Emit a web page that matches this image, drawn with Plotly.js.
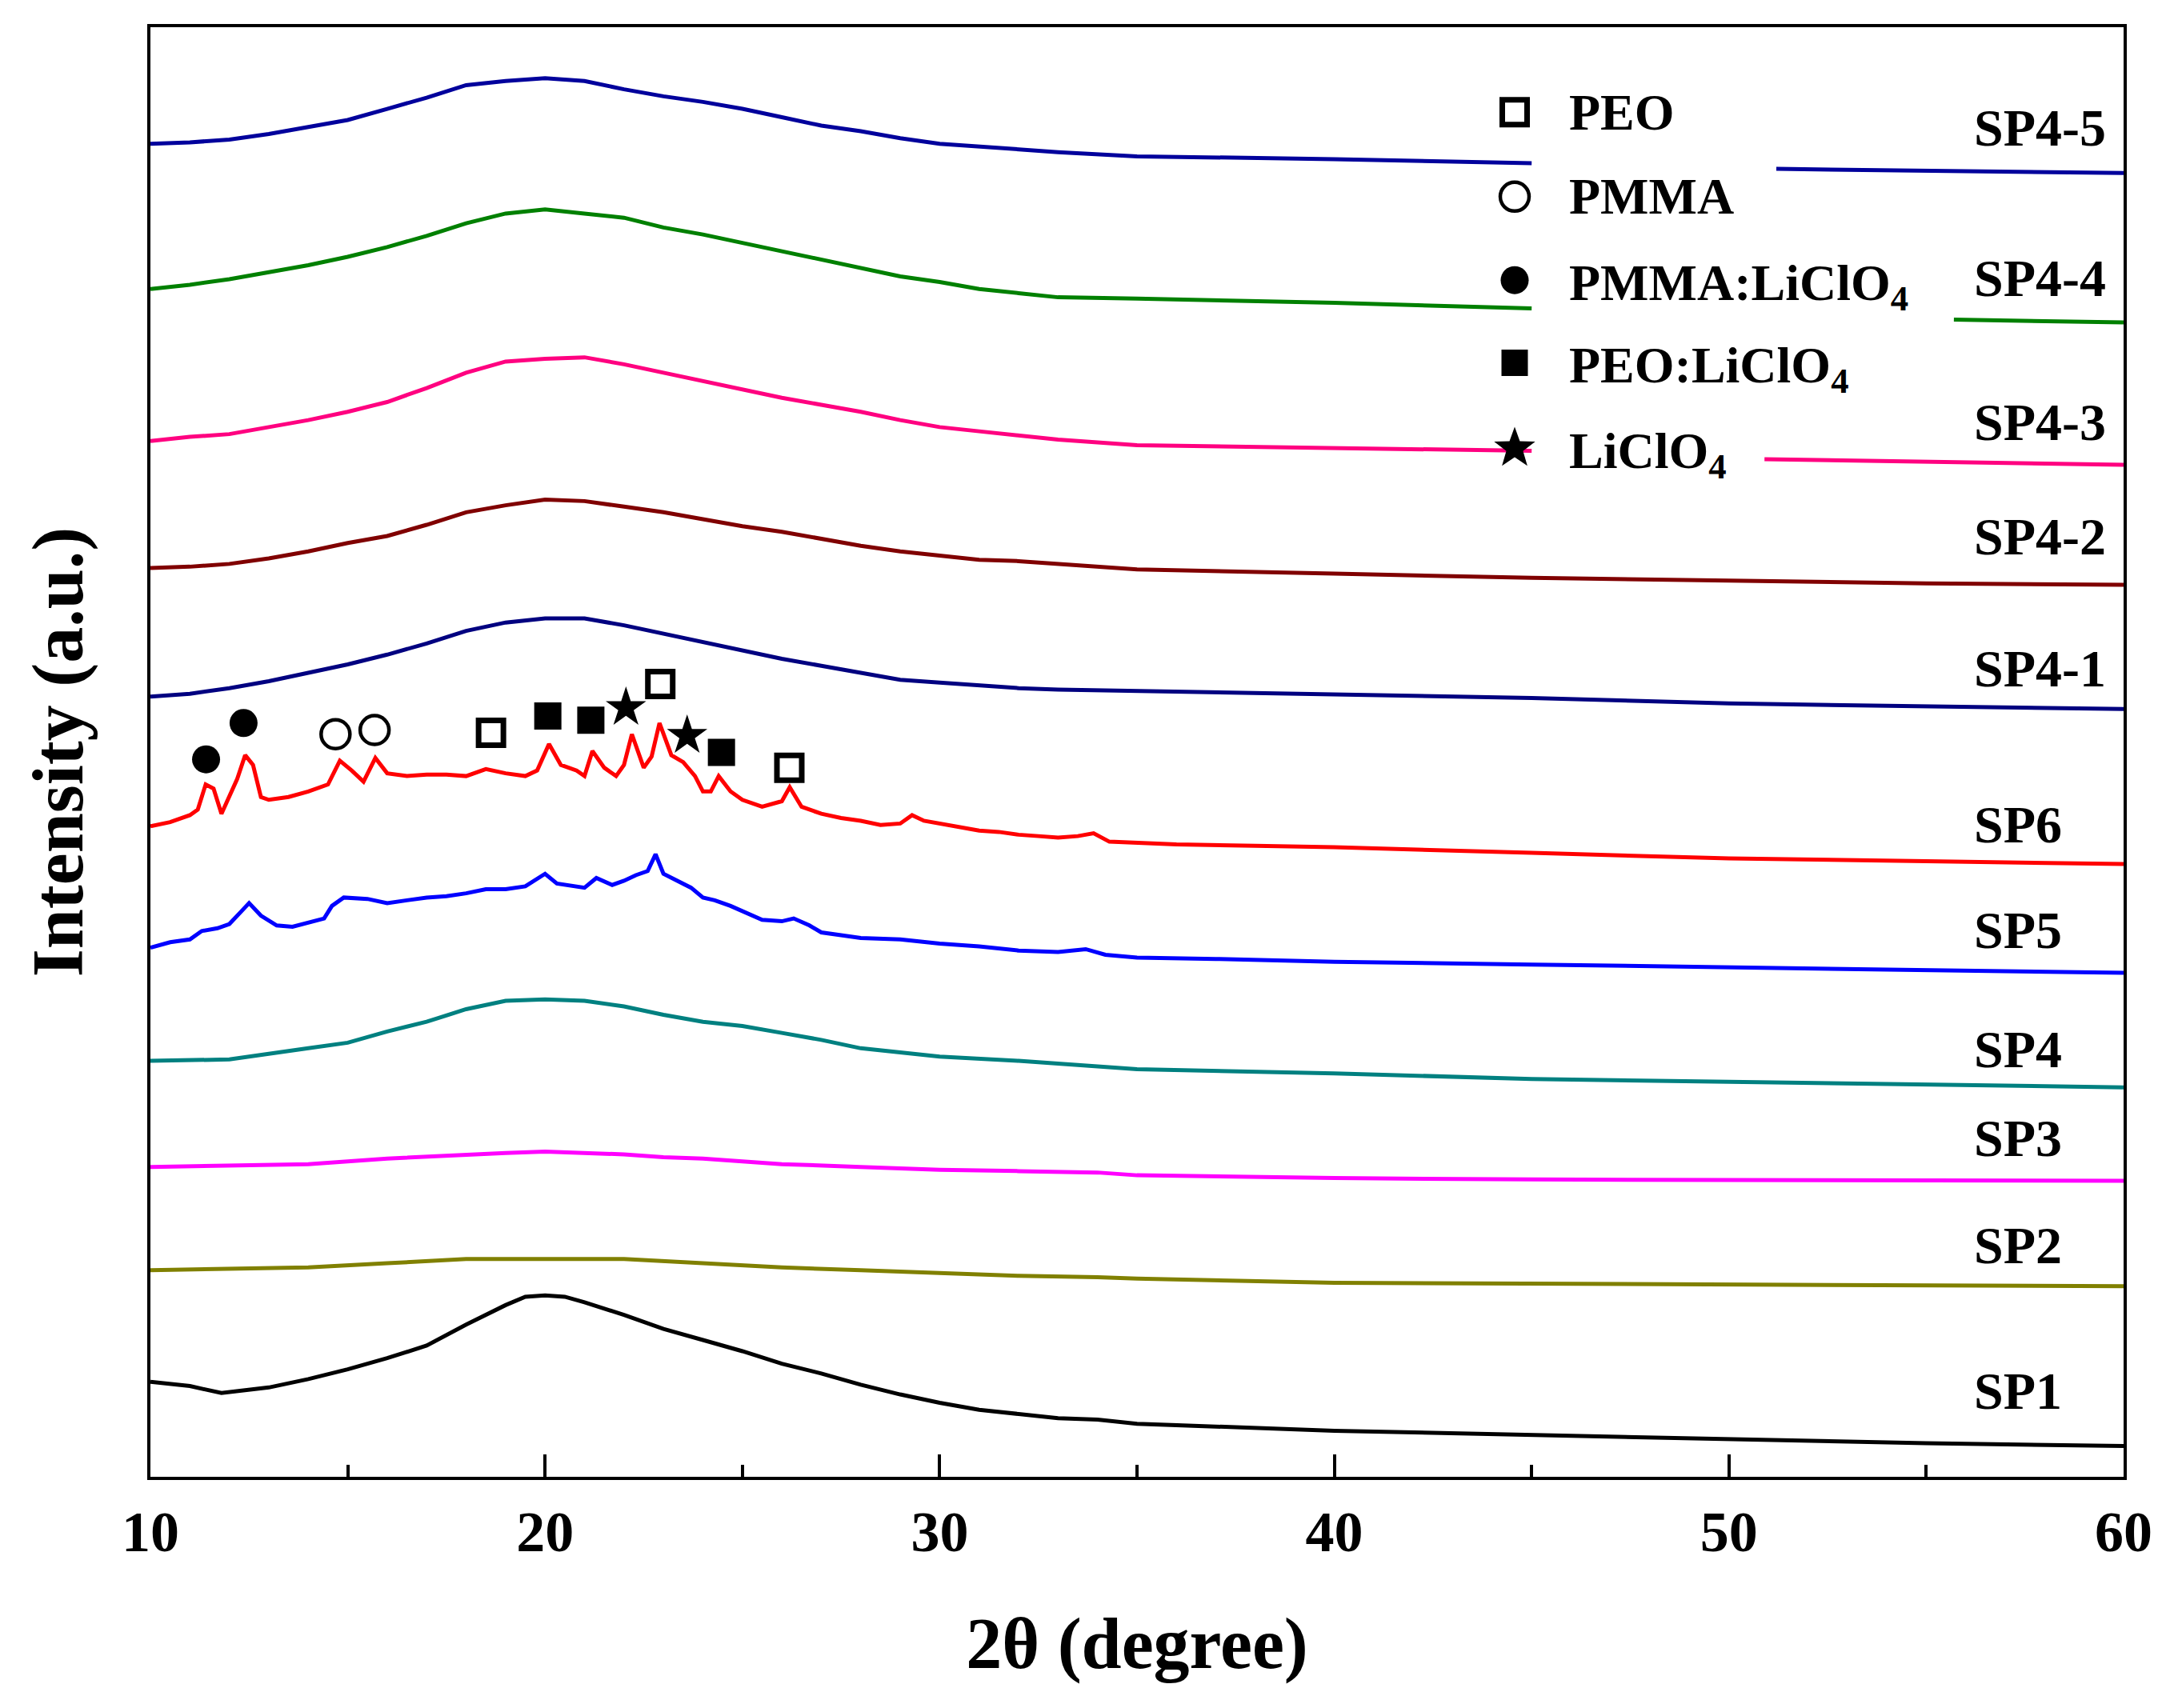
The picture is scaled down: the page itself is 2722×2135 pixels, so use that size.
<!DOCTYPE html>
<html>
<head>
<meta charset="utf-8">
<script src="https://cdn.plot.ly/plotly-3.0.1.min.js"></script>
<style>
html,body{margin:0;padding:0;background:#ffffff;}
#chart{width:2722px;height:2135px;}
</style>
</head>
<body>
<div id="chart"></div>
<script>
// ---------------- DATA ----------------
// x = 2θ (degree), y = intensity in arbitrary stacked units
const sp1X = [10,11,11.8,13,14,15,16,17,18,19,19.5,20,20.5,21,22,23,24,25,26,27,28,29,30,31,32,33,34,35,40,45,50,55,60];
const sp1Y = [72,69,64,68,74,81,89,98,113,127,133,134,133,129,120,110,102,94,85,78,70,63,57,52,49,46,45,42,37,34,31,28,26];

const sp2X = [10,12,14,16,18,20,22,24,26,28,30,32,34,35,40,45,50,55,60];
const sp2Y = [152,153,154,157,160,160,160,157,154,152,150,148,147,146,143,142.5,142,141,140.5];

const sp3X = [10,12,14,16,18,19,20,21,22,23,24,25,26,28,30,32,34,35,40,45,50,55,60];
const sp3Y = [226,227,228,232,235,236,237,236,235,233,232,230,228,226,224,223,222,220,218,217,216.5,216,216];

const sp4X = [10,12,14,15,16,17,18,19,20,21,22,23,24,25,26,27,28,29,30,32,34,35,40,45,50,55,60];
const sp4Y = [302,303,311,315,323,330,339,345,346,345,341,335,330,327,322,317,311,308,305,302,298,296,293,289,287,285,283];

const sp5X = [10,10.5,11,11.3,11.7,12,12.3,12.5,12.8,13.2,13.6,14,14.4,14.6,14.9,15.5,16,16.5,17,17.5,18,18.5,19,19.5,19.8,20,20.3,20.6,21,21.3,21.7,22,22.3,22.6,22.8,23,23.3,23.7,24,24.3,24.7,25,25.5,26,26.3,26.7,27,27.5,28,29,30,31,32,33,33.7,34.2,35,37,40,45,50,55,60];
const sp5Y = [383,387,389,395,397,400,409,415,406,399,398,401,404,413,419,418,415,417,419,420,422,425,425,427,432,436,429,428,426,433,428,431,435,438,450,436,432,426,419,417,413,409,403,402,404,399,394,392,390,389,386,384,381,380,382,378,376,375,373,371,369,367,365];

const sp6X = [10,10.5,11,11.2,11.4,11.6,11.8,12,12.2,12.4,12.6,12.8,13,13.5,14,14.5,14.8,15.1,15.4,15.7,16,16.5,17,17.5,18,18.5,19,19.5,19.8,20.1,20.4,20.8,21,21.2,21.5,21.8,22,22.2,22.5,22.7,22.9,23.2,23.5,23.8,24,24.2,24.4,24.7,25,25.5,26,26.2,26.5,27,27.5,28,28.5,29,29.3,29.6,30,30.5,31,31.5,32,32.5,33,33.5,33.9,34.3,35,36,38,40,45,50,55,60];
const sp6Y = [470,473,478,482,500,497,479,491,504,521,514,491,489,491,495,500,517,510,502,519,508,506,507,507,506,511,508,506,510,529,514,510,506,524,512,506,514,536,512,520,544,521,516,506,495,495,506,495,489,484,488,498,484,479,476,474,471,472,478,474,472,470,467,466,464,463,462,463,465,459,458,457,456,455,451,447,445,443];

const sp41X = [10,11,12,13,14,15,16,17,18,19,20,21,22,23,24,25,26,27,28,29,30,31,32,33,35,40,45,50,55,60];
const sp41Y = [563,565,569,574,580,586,593,601,610,616,619,619,614,608,602,596,590,585,580,575,573,571,569,568,567,565,562,558,556,554];

const sp42X = [10,11,12,13,14,15,16,17,18,19,20,21,22,23,24,25,26,27,28,29,30,31,32,33,35,40,45,50,55,60];
const sp42Y = [655,656,658,662,667,673,678,686,695,700,704,703,699,695,690,685,681,676,671,667,664,661,660,658,654,651,648,646,644,643];

const sp43X = [10,11,12,13,14,15,16,17,18,19,20,21,22,23,24,25,26,27,28,29,30,31,32,33,35,40,45,48,50.9,55,60];
const sp43Y = [746,749,751,756,761,767,774,784,795,803,805,806,801,795,789,783,777,772,767,761,756,753,750,747,743,741,739,null,733,731,729];

const sp44X = [10,11,12,13,14,15,16,17,18,19,20,21,22,23,24,25,26,27,28,29,30,31,32,33,35,40,45,50,55.7,60];
const sp44Y = [855,858,862,867,872,878,885,893,902,909,912,909,906,899,894,888,882,876,870,864,860,855,852,849,848,845,841,null,833,831];

const sp45X = [10,11,12,13,14,15,16,17,18,19,20,21,22,23,24,25,26,27,28,29,30,31,32,33,35,40,45,48,51.2,55,60];
const sp45Y = [959,960,962,966,971,976,984,992,1001,1004,1006,1004,998,993,989,984,978,972,968,963,959,957,955,953,950,948,945,null,941,940,938];

// peak assignment markers (SP6)
const peoX = [18.63, 22.92, 26.19];
const peoY = [537, 572, 512];
const pmmaX = [14.69, 15.68];
const pmmaY = [536, 539];
const pmmaLiX = [11.41, 12.36];
const pmmaLiY = [518, 544];
const peoLiX = [20.07, 21.16, 24.47];
const peoLiY = [549, 546, 523];
const liX = [22.05, 23.60];
const liY = [555, 535];

// labels
const seriesNames = ['SP1','SP2','SP3','SP4','SP5','SP6','SP4-1','SP4-2','SP4-3','SP4-4','SP4-5'];
const legendNames = ['PEO','PMMA','PMMA:LiClO<sub>4</sub>','PEO:LiClO<sub>4</sub>','LiClO<sub>4</sub>'];
const xTickVals = [10,20,30,40,50,60];

// ---------------- STYLE / LAYOUT ----------------
const FONT = 'Liberation Serif, Times New Roman, serif';
const seriesX = [sp1X,sp2X,sp3X,sp4X,sp5X,sp6X,sp41X,sp42X,sp43X,sp44X,sp45X];
const seriesY = [sp1Y,sp2Y,sp3Y,sp4Y,sp5Y,sp6Y,sp41Y,sp42Y,sp43Y,sp44Y,sp45Y];
const seriesColors = ['#000000','#808000','#FF00FF','#008080','#0000FF','#FF0000','#000080','#800000','#FF0080','#008000','#00009C'];
// label positions (paper fraction)
const labelPosY = [0.0594,0.1598,0.2337,0.2950,0.3774,0.4503,0.5577,0.6487,0.7274,0.8270,0.9306];

const traces = [];
for (let i = 0; i < seriesX.length; i++) {
  traces.push({
    x: seriesX[i], y: seriesY[i], type: 'scatter', mode: 'lines',
    name: seriesNames[i], connectgaps: false,
    line: {color: seriesColors[i], width: 5},
    showlegend: false, hoverinfo: 'skip'
  });
}
const peakStyles = [
  {x: peoX, y: peoY, sym: 'square-open', size: 31, lw: 7},
  {x: pmmaX, y: pmmaY, sym: 'circle-open', size: 36, lw: 4.5},
  {x: pmmaLiX, y: pmmaLiY, sym: 'circle', size: 35, lw: 0},
  {x: peoLiX, y: peoLiY, sym: 'square', size: 34, lw: 0},
  {x: liX, y: liY, sym: 'star', size: 38, lw: 0}
];
peakStyles.forEach((p, k) => {
  traces.push({
    x: p.x, y: p.y, type: 'scatter', mode: 'markers', name: legendNames[k],
    marker: {symbol: p.sym, size: p.size, color: '#000000', line: {color: '#000000', width: p.lw}},
    showlegend: false, hoverinfo: 'skip'
  });
});

const annotations = [];
for (let i = 0; i < seriesNames.length; i++) {
  annotations.push({
    xref: 'paper', yref: 'paper', x: 0.9234, y: labelPosY[i],
    xanchor: 'left', yanchor: 'middle', showarrow: false,
    text: seriesNames[i],
    font: {family: FONT, size: 66, color: '#000000', weight: 'bold'}
  });
}
// manual legend
const legX = 0.6914, legTextX = 0.7182;
const legRowY = [0.9414, 0.8831, 0.8255, 0.7685, 0.7095];
const legShift = [0, 0, -8, -8, -8];
for (let k = 0; k < legendNames.length; k++) {
  annotations.push({
    xref: 'paper', yref: 'paper', x: legTextX, y: legRowY[k], yshift: legShift[k],
    xanchor: 'left', yanchor: 'middle', showarrow: false,
    text: legendNames[k],
    font: {family: FONT, size: 64, color: '#000000', weight: 'bold'}
  });
}
function pixShape(type, yAnchor, half, extra) {
  return Object.assign({
    type: type, xref: 'paper', yref: 'paper',
    xsizemode: 'pixel', ysizemode: 'pixel',
    xanchor: legX, yanchor: yAnchor,
    x0: -half, x1: half, y0: -half, y1: half
  }, extra);
}
const shapes = [
  pixShape('rect', legRowY[0], 15.5, {line: {color: '#000', width: 7}, fillcolor: 'rgba(0,0,0,0)'}),
  pixShape('circle', legRowY[1], 18, {line: {color: '#000', width: 4.5}, fillcolor: 'rgba(0,0,0,0)'}),
  pixShape('circle', legRowY[2], 17.5, {line: {width: 0}, fillcolor: '#000'}),
  pixShape('rect', legRowY[3], 16.5, {line: {width: 0}, fillcolor: '#000'})
];
// star symbol for legend
(function(){
  const R = 27, r = 11; let d = '';
  for (let j = 0; j < 10; j++) {
    const a = Math.PI / 2 + j * Math.PI / 5;
    const rr = (j % 2 === 0) ? R : r;
    d += (j === 0 ? 'M' : 'L') + (rr * Math.cos(a)).toFixed(2) + ',' + (rr * Math.sin(a)).toFixed(2);
  }
  d += 'Z';
  shapes.push({type: 'path', xref: 'paper', yref: 'paper', xsizemode: 'pixel', ysizemode: 'pixel',
    xanchor: legX, yanchor: legRowY[4], path: d, line: {width: 0}, fillcolor: '#000'});
})();

const layout = {
  width: 2722, height: 2135,
  margin: {l: 188, r: 68, t: 34, b: 289, pad: 0},
  paper_bgcolor: '#ffffff', plot_bgcolor: '#ffffff',
  showlegend: false,
  font: {family: FONT, color: '#000000'},
  xaxis: {
    range: [10, 60], tickmode: 'array', tickvals: xTickVals, ticktext: xTickVals.map(String),
    ticks: 'inside', ticklen: 28, tickwidth: 4, tickcolor: '#000',
    minor: {ticks: 'inside', ticklen: 15, tickwidth: 4, tickcolor: '#000', dtick: 5, tick0: 10, showgrid: false},
    showline: true, linewidth: 4, linecolor: '#000', mirror: true,
    showgrid: false, zeroline: false,
    ticklabelstandoff: 3,
    tickfont: {family: FONT, size: 72, color: '#000', weight: 'bold'},
    title: {text: '2θ (degree)', font: {family: FONT, size: 90, color: '#000', weight: 'bold'}, standoff: 69}
  },
  yaxis: {
    range: [4, 1042.5], showticklabels: false, ticks: '',
    showline: true, linewidth: 4, linecolor: '#000', mirror: true,
    showgrid: false, zeroline: false,
    title: {text: 'Intensity (a.u.)', font: {family: FONT, size: 90, color: '#000', weight: 'bold'}, standoff: 52}
  },
  annotations: annotations,
  shapes: shapes
};

Plotly.newPlot('chart', traces, layout, {displayModeBar: false, staticPlot: true});
</script>
</body>
</html>
